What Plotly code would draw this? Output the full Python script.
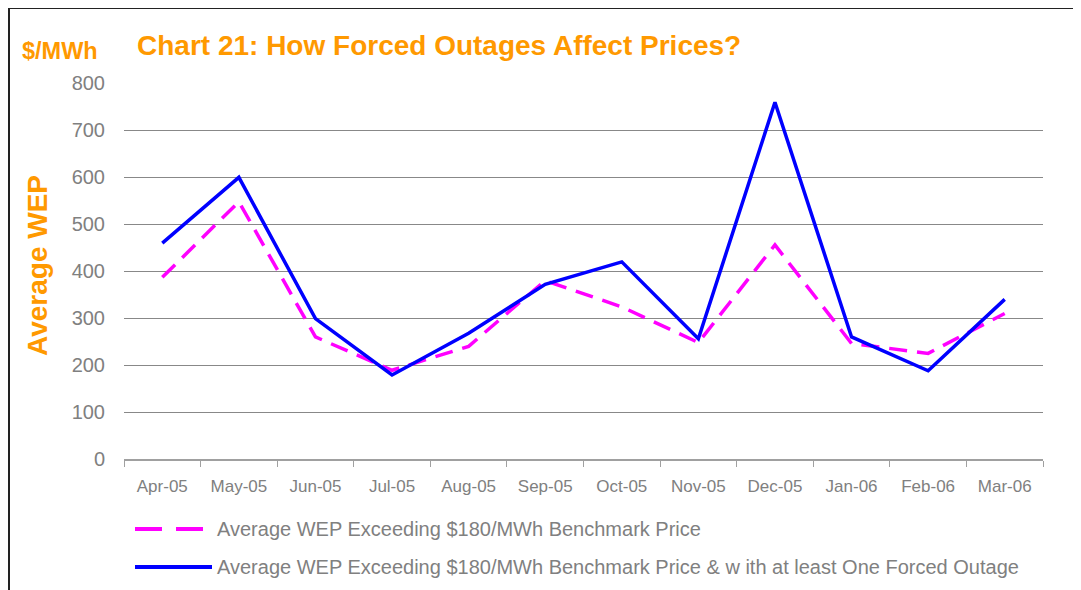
import plotly.graph_objects as go

months = ["Apr-05", "May-05", "Jun-05", "Jul-05", "Aug-05", "Sep-05",
          "Oct-05", "Nov-05", "Dec-05", "Jan-06", "Feb-06", "Mar-06"]
wep_benchmark = [387, 548, 260, 189, 240, 380, 324, 248, 456, 246, 225, 310]
wep_forced = [460, 600, 299, 179, 268, 372, 420, 256, 760, 260, 188, 340]
y_ticks = [0, 100, 200, 300, 400, 500, 600, 700, 800]
series_names = [
    "Average WEP Exceeding $180/MWh Benchmark Price",
    "Average WEP Exceeding $180/MWh Benchmark Price & w ith at least One Forced Outage",
]

ORANGE = "#FF9900"
GREY = "#808080"
PINK = "#FF00FF"
BLUE = "#0000FF"
FONT = "Liberation Sans, Arial, sans-serif"

# figure-coordinate helpers (page has an 8px body margin)
L, T, PW, PH = 116, 75, 919, 376


def px(x):
    return (x - 8 - L) / PW


def py(y):
    return (T + PH - (y - 8)) / PH


fig = go.Figure()
fig.add_trace(go.Scatter(
    x=months, y=wep_benchmark, mode="lines", name=series_names[0],
    line=dict(color=PINK, width=3.5, dash="18px,10px")))
fig.add_trace(go.Scatter(
    x=months, y=wep_forced, mode="lines", name=series_names[1],
    line=dict(color=BLUE, width=3.5)))

# legend drawn by hand below the plot (keeps the plot area from shrinking)
legend_rows = [(529, PINK, "27px,14px", 203), (567, BLUE, "solid", 212)]
shapes = [
    dict(type="line", xref="paper", yref="paper",
         x0=px(9), x1=px(9), y0=py(8), y1=py(600),
         line=dict(color="#222222", width=2)),
    dict(type="line", xref="paper", yref="paper",
         x0=px(8), x1=px(1090), y0=py(8), y1=py(8),
         line=dict(color="#222222", width=2)),
]
annotations = [
    dict(text="<b>Chart 21: How Forced Outages Affect Prices?</b>",
         xref="paper", yref="paper", x=px(135), y=py(45),
         xanchor="left", yanchor="middle", showarrow=False,
         font=dict(size=28, color=ORANGE, family=FONT)),
    dict(text="<b>$/MWh</b>",
         xref="paper", yref="paper", x=px(60), y=py(51),
         xanchor="center", yanchor="middle", showarrow=False,
         font=dict(size=23.5, color=ORANGE, family=FONT)),
    dict(text="<b>Average WEP</b>",
         xref="paper", yref="paper", x=px(37), y=py(266),
         xanchor="center", yanchor="middle", showarrow=False, textangle=-90,
         font=dict(size=28, color=ORANGE, family=FONT)),
]
for (yy, col, dash, x_end), name in zip(legend_rows, series_names):
    shapes.append(dict(type="line", xref="paper", yref="paper",
                       x0=px(135), x1=px(x_end), y0=py(yy), y1=py(yy),
                       line=dict(color=col, width=4, dash=dash)))
    annotations.append(dict(text=name, xref="paper", yref="paper",
                            x=px(215), y=py(yy), xanchor="left",
                            yanchor="middle", showarrow=False,
                            font=dict(size=20, color=GREY, family=FONT)))

fig.update_layout(
    width=1073, height=582,
    margin=dict(l=L, r=38, t=T, b=131),
    paper_bgcolor="white", plot_bgcolor="white",
    font=dict(family=FONT, color=GREY),
    showlegend=False,
    xaxis=dict(type="category", tickson="boundaries", ticks="outside",
               ticklen=6, tickcolor="#A0A0A0", showline=True,
               linecolor="#A0A0A0", linewidth=1.5, showgrid=False,
               tickfont=dict(size=17, color=GREY), ticklabelstandoff=11,
               range=[-0.5, 11.5]),
    yaxis=dict(range=[0, 801], tickvals=y_ticks, showgrid=True,
               gridcolor="#888888", gridwidth=1, zeroline=False,
               showline=False, tickfont=dict(size=20, color=GREY),
               ticklabelstandoff=18),
    annotations=annotations,
    shapes=shapes,
)

fig.write_html("out.html")
